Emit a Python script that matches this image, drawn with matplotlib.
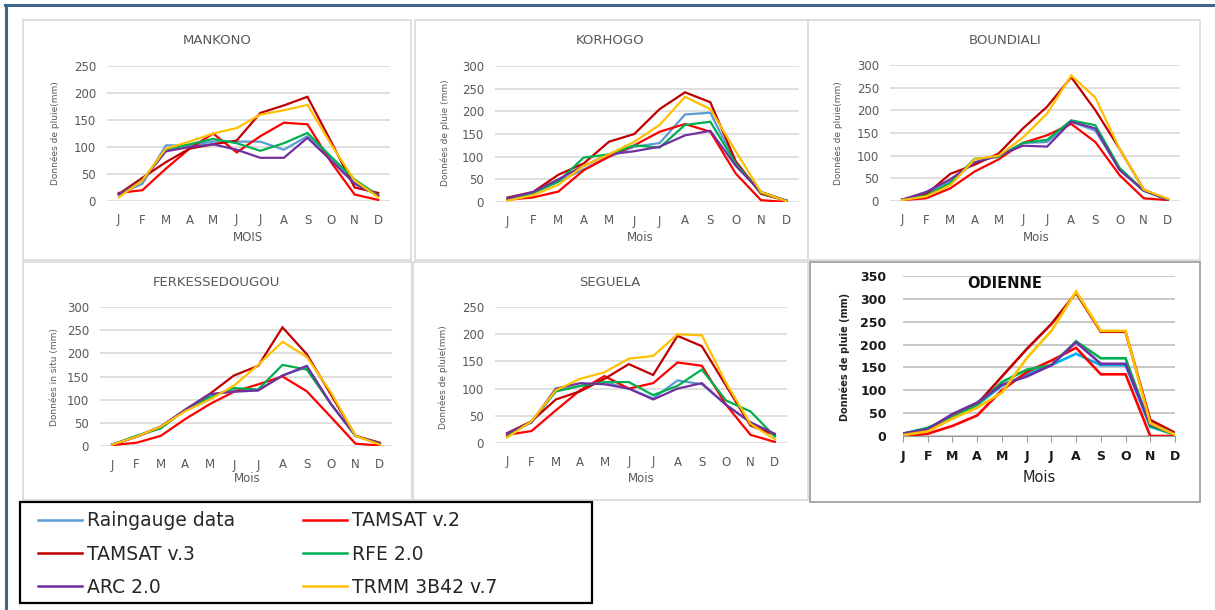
import matplotlib
matplotlib.use("Agg")
import matplotlib.pyplot as plt
from matplotlib.lines import Line2D
from matplotlib.patches import Rectangle

plt.rcParams["font.family"] = ["DejaVu Sans"]

W, H = 1215, 610

months = ["J", "F", "M", "A", "M", "J", "J", "A", "S", "O", "N", "D"]
series = ["Raingauge data", "TAMSAT v.2", "TAMSAT v.3", "RFE 2.0", "ARC 2.0", "TRMM 3B42 v.7"]
colors = ["#5b9bd5", "#ff0000", "#c00000", "#00b050", "#7030a0", "#ffc000"]

mankono_rain = [12, 32, 103, 103, 110, 110, 110, 95, 120, 80, 35, 12]
mankono_tam2 = [15, 20, 60, 97, 125, 90, 120, 145, 142, 72, 12, 2]
mankono_tam3 = [13, 43, 72, 97, 105, 112, 163, 177, 193, 110, 25, 15]
mankono_rfe = [12, 38, 95, 105, 115, 107, 93, 107, 126, 82, 40, 10]
mankono_arc = [12, 38, 92, 100, 105, 95, 80, 80, 117, 75, 32, 10]
mankono_trmm = [7, 38, 97, 110, 125, 135, 160, 168, 178, 105, 38, 7]

korhogo_rain = [5, 20, 45, 72, 100, 122, 130, 193, 197, 85, 22, 3]
korhogo_tam2 = [5, 10, 23, 70, 100, 125, 155, 172, 155, 63, 4, 0]
korhogo_tam3 = [10, 22, 60, 85, 133, 150, 205, 242, 220, 90, 18, 3]
korhogo_rfe = [8, 20, 45, 98, 105, 125, 120, 170, 177, 85, 20, 3]
korhogo_arc = [8, 22, 50, 80, 105, 112, 122, 147, 157, 80, 22, 3]
korhogo_trmm = [3, 15, 38, 80, 105, 133, 170, 232, 205, 112, 22, 2]

boundiali_rain = [3, 15, 45, 85, 100, 128, 130, 175, 155, 70, 22, 3]
boundiali_tam2 = [2, 6, 28, 65, 92, 128, 145, 170, 130, 57, 6, 2]
boundiali_tam3 = [3, 15, 60, 80, 105, 160, 208, 273, 200, 115, 25, 3]
boundiali_rfe = [3, 12, 40, 93, 97, 128, 135, 178, 167, 73, 23, 3]
boundiali_arc = [3, 20, 48, 85, 100, 122, 120, 175, 160, 68, 23, 3]
boundiali_trmm = [2, 10, 35, 92, 100, 140, 193, 277, 228, 115, 25, 5]

ferke_rain = [3, 20, 40, 78, 110, 120, 120, 152, 170, 90, 22, 5]
ferke_tam2 = [2, 7, 22, 58, 90, 117, 133, 150, 118, 62, 5, 1]
ferke_tam3 = [3, 20, 42, 78, 112, 152, 173, 256, 198, 110, 22, 7]
ferke_rfe = [3, 22, 38, 78, 105, 125, 122, 175, 165, 90, 22, 5]
ferke_arc = [3, 20, 42, 78, 112, 117, 120, 152, 173, 90, 22, 5]
ferke_trmm = [3, 20, 42, 75, 100, 130, 175, 225, 192, 115, 22, 3]

seguela_rain = [15, 38, 95, 105, 112, 100, 82, 115, 108, 70, 38, 15]
seguela_tam2 = [15, 22, 60, 97, 123, 100, 110, 148, 142, 70, 15, 2]
seguela_tam3 = [18, 40, 80, 95, 118, 145, 125, 197, 178, 105, 32, 15]
seguela_rfe = [12, 40, 95, 105, 112, 112, 88, 105, 135, 78, 58, 12]
seguela_arc = [18, 38, 100, 110, 108, 100, 80, 100, 110, 70, 38, 17]
seguela_trmm = [10, 40, 97, 118, 130, 155, 160, 200, 198, 110, 35, 7]

odienne_rain = [5, 15, 45, 68, 110, 135, 155, 180, 155, 155, 20, 3]
odienne_tam2 = [0, 5, 22, 45, 100, 140, 165, 193, 135, 135, 0, 0]
odienne_tam3 = [5, 15, 45, 70, 130, 190, 245, 313, 228, 228, 35, 7]
odienne_rfe = [5, 18, 42, 68, 118, 145, 155, 207, 170, 170, 22, 3]
odienne_arc = [5, 15, 48, 73, 112, 130, 155, 205, 158, 158, 25, 5]
odienne_trmm = [2, 10, 38, 62, 95, 170, 230, 316, 230, 230, 28, 3]


def px_rect(left, right, top, bottom):
    return [left / W, 1 - bottom / H, (right - left) / W, (bottom - top) / H]


def fig_xy(x, y):
    return x / W, 1 - y / H


def box(l, r, t, b, color, lw):
    x0, y0 = fig_xy(l, b)
    fig.add_artist(Rectangle((x0, y0), (r - l) / W, (b - t) / H, fill=False,
                             edgecolor=color, lw=lw, transform=fig.transFigure))


fig = plt.figure(figsize=(W / 100, H / 100), dpi=100)

# outer frame (top and left edges) and panel boxes
fig.add_artist(Line2D([5 / W, 1], [1 - 5 / H] * 2, color="#41648f", lw=2.2))
fig.add_artist(Line2D([6 / W] * 2, [0, 1 - 5 / H], color="#41648f", lw=2.2))
box(23, 411, 20, 260, "#dcdcdc", 1.3)
box(415, 808, 20, 260, "#dcdcdc", 1.3)
box(808, 1200, 20, 260, "#dcdcdc", 1.3)
box(23, 412, 262, 500, "#dcdcdc", 1.3)
box(413, 808, 262, 500, "#dcdcdc", 1.3)
box(810, 1200, 262, 502, "#a0a0a0", 1.3)

panels = [
    ("MANKONO", [mankono_rain, mankono_tam2, mankono_tam3, mankono_rfe, mankono_arc, mankono_trmm],
     (107, 390, 66, 201), 250, "Données de pluie(mm)", "MOIS", (217, 40), (248, 237), (55, 133)),
    ("KORHOGO", [korhogo_rain, korhogo_tam2, korhogo_tam3, korhogo_rfe, korhogo_arc, korhogo_trmm],
     (495, 799, 66, 202), 300, "Données de pluie (mm)", "Mois", (610, 40), (640, 237), (445, 133)),
    ("BOUNDIALI", [boundiali_rain, boundiali_tam2, boundiali_tam3, boundiali_rfe, boundiali_arc, boundiali_trmm],
     (890, 1180, 65, 201), 300, "Données de pluie(mm)", "Mois", (1005, 40), (1036, 237), (838, 133)),
    ("FERKESSEDOUGOU", [ferke_rain, ferke_tam2, ferke_tam3, ferke_rfe, ferke_arc, ferke_trmm],
     (100, 392, 307, 446), 300, "Données in situ (mm)", "Mois", (216, 282), (247, 479), (55, 377)),
    ("SEGUELA", [seguela_rain, seguela_tam2, seguela_tam3, seguela_rfe, seguela_arc, seguela_trmm],
     (495, 787, 307, 443), 250, "Données de pluie(mm)", "Mois", (610, 282), (641, 479), (443, 377)),
]

x = list(range(12))
for title, data, (l, r, t, b), ymax, ylab, xlab, tpos, xpos, ypos in panels:
    ax = fig.add_axes(px_rect(l, r, t, b))
    for vals, c in zip(data, colors):
        ax.plot(x, vals, color=c, lw=1.6, solid_joinstyle="miter")
    ax.set_xlim(-0.5, 11.5)
    ax.set_ylim(0, ymax)
    ax.set_yticks(range(0, ymax + 1, 50))
    ax.set_xticks(x, months)
    ax.grid(axis="y", color="#d9d9d9", lw=1.2)
    ax.set_axisbelow(True)
    for s in ax.spines.values():
        s.set_visible(False)
    ax.tick_params(length=0, labelsize=8.5, labelcolor="#595959")
    ax.tick_params(axis="y", pad=8)
    ax.tick_params(axis="x", pad=9)
    fig.text(*fig_xy(*tpos), title, ha="center", va="center", fontsize=9.5, color="#595959")
    fig.text(*fig_xy(*xpos), xlab, ha="center", va="center", fontsize=8.5, color="#595959")
    fig.text(*fig_xy(*ypos), ylab, ha="center", va="center", fontsize=6.5, color="#595959",
             rotation=90)

# ODIENNE panel, drawn in a bolder style
odienne = [odienne_rain, odienne_tam2, odienne_tam3, odienne_rfe, odienne_arc, odienne_trmm]
odienne_colors = ["#00b0f0"] + colors[1:]
ax = fig.add_axes(px_rect(903, 1175, 276, 436))
for vals, c in zip(odienne, odienne_colors):
    ax.plot(x, vals, color=c, lw=1.9, solid_joinstyle="miter")
ax.set_xlim(0, 11)
ax.set_ylim(0, 350)
ax.set_yticks(range(0, 351, 50))
ax.set_xticks(x, months)
ax.grid(axis="y", color="#bdbdbd", lw=1.2)
ax.set_axisbelow(True)
for s in ax.spines.values():
    s.set_visible(False)
ax.spines["bottom"].set_visible(True)
ax.spines["bottom"].set_color("#9a9a9a")
ax.tick_params(axis="y", length=0, pad=12)
ax.tick_params(axis="x", length=4, color="#9a9a9a", pad=6)
for lab in ax.get_xticklabels() + ax.get_yticklabels():
    lab.set_fontweight("bold")
    lab.set_fontsize(9)
    lab.set_color("#1a1a1a")
fig.text(*fig_xy(1005, 283), "ODIENNE", ha="center", va="center", fontsize=10.5,
         fontweight="bold", color="#111111")
fig.text(*fig_xy(1039, 478), "Mois", ha="center", va="center", fontsize=10.5, color="#222222")
fig.text(*fig_xy(845, 357), "Données de pluie (mm)", ha="center", va="center", fontsize=7,
         fontweight="bold", color="#222222", rotation=90)

# legend: box drawn separately, entries filled column by column
box(20, 592, 502, 603, "black", 1.6)
order = [0, 2, 4, 1, 3, 5]
handles = [Line2D([], [], color=colors[i], lw=1.8) for i in order]
labels = [series[i] for i in order]
leg = fig.legend(handles, labels, ncol=2, loc="upper left",
                 bbox_to_anchor=fig_xy(30, 504), fontsize=13.5, frameon=False,
                 handlelength=2.35, handletextpad=0.3, columnspacing=3.6,
                 labelspacing=0.75, borderpad=0.4, borderaxespad=0)
for txt in leg.get_texts():
    txt.set_color("#262626")

fig.savefig("out.png", dpi=100)
